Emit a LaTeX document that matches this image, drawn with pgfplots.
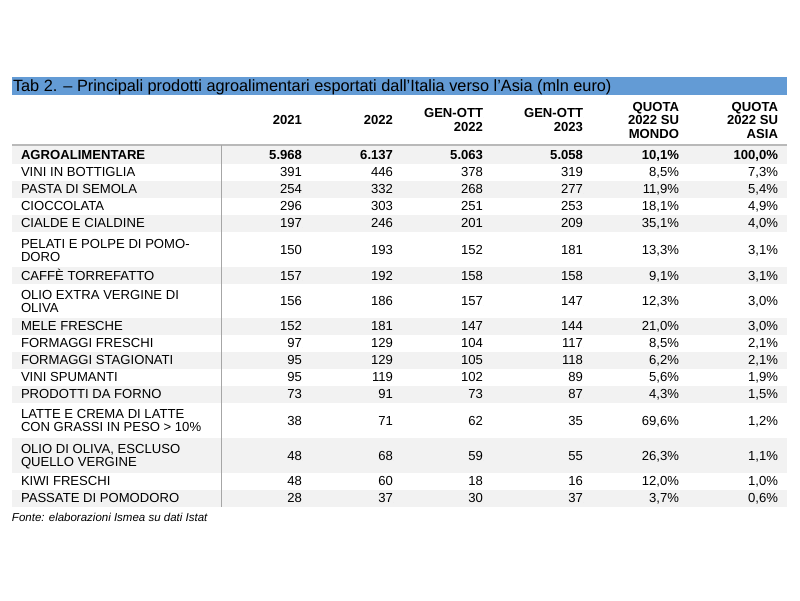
\documentclass[border=0pt]{standalone}
\usepackage{fontspec}
\setmainfont{Liberation Sans}
\usepackage{pgfplots}
\usepackage{pgfplotstable}
\pgfplotsset{compat=1.18}
\definecolor{titleblue}{RGB}{99,155,213}
\definecolor{stripe}{RGB}{242,242,242}
\newcommand{\bodyfont}{\fontsize{13.1}{15}\selectfont}
\newcommand{\titlefont}{\fontsize{16.3}{18}\selectfont}
\newcommand{\notefont}{\fontsize{11.5}{13}\selectfont\itshape}

\pgfplotstableread[col sep=semicolon]{
y;t
176.6;VINI IN BOTTIGLIA
193.6;PASTA DI SEMOLA
210.6;CIOCCOLATA
227.6;CIALDE E CIALDINE
248.1;PELATI E POLPE DI POMO-
261.4;DORO
280.1;CAFFÈ TORREFATTO
299.1;OLIO EXTRA VERGINE DI
312.1;OLIVA
330.6;MELE FRESCHE
347.6;FORMAGGI FRESCHI
364.6;FORMAGGI STAGIONATI
381.6;VINI SPUMANTI
398.6;PRODOTTI DA FORNO
418.6;LATTE E CREMA DI LATTE
431.6;CON GRASSI IN PESO > 10\%
453.6;OLIO DI OLIVA, ESCLUSO
466.6;QUELLO VERGINE
485.6;KIWI FRESCHI
502.6;PASSATE DI POMODORO
}\labels

\pgfplotstableread[col sep=semicolon]{
y;a;b;c;d;e;f
176.6;391;446;378;319;8,5\%;7,3\%
193.6;254;332;268;277;11,9\%;5,4\%
210.6;296;303;251;253;18,1\%;4,9\%
227.6;197;246;201;209;35,1\%;4,0\%
254.6;150;193;152;181;13,3\%;3,1\%
280.1;157;192;158;158;9,1\%;3,1\%
305.1;156;186;157;147;12,3\%;3,0\%
330.6;152;181;147;144;21,0\%;3,0\%
347.6;97;129;104;117;8,5\%;2,1\%
364.6;95;129;105;118;6,2\%;2,1\%
381.6;95;119;102;89;5,6\%;1,9\%
398.6;73;91;73;87;4,3\%;1,5\%
425.1;38;71;62;35;69,6\%;1,2\%
460.1;48;68;59;55;26,3\%;1,1\%
485.6;48;60;18;16;12,0\%;1,0\%
502.6;28;37;30;37;3,7\%;0,6\%
}\datatab

\pgfplotstableread[col sep=semicolon]{
x;y;t
302;124.5;2021
393;124.5;2022
483;117.5;GEN-OTT
483;131;2022
583;117.5;GEN-OTT
583;131;2023
679;111;QUOTA
679;124.5;2022 SU
679;138;MONDO
778;111;QUOTA
778;124.5;2022 SU
778;138;ASIA
302;159.6;5.968
393;159.6;6.137
483;159.6;5.063
583;159.6;5.058
679;159.6;10,1\%
778;159.6;100,0\%
}\boldtab

\pgfplotstableread[col sep=semicolon]{
x;y;t
21;159.6;AGROALIMENTARE
}\boldlab

\pgfplotstableread[col sep=semicolon]{
x;y;t
13;91.5;Tab 2. – Principali prodotti agroalimentari esportati dall’Italia verso l’Asia (mln euro)
}\titletab

\pgfplotstableread[col sep=semicolon]{
x;y;t
12;521;Fonte: elaborazioni Ismea su dati Istat
}\notetab

\pgfplotsset{
  txt/.style 2 args={only marks, mark=*, mark size=0pt,
    mark options={draw=none,fill=none},
    point meta=explicit symbolic, nodes near coords,
    nodes near coords style={inner sep=0pt, outer sep=0pt, text=black, font=#1, anchor=#2}},
  stripe/.style={draw=none, fill=stripe, forget plot}
}

\begin{document}
\begin{tikzpicture}
\begin{axis}[width=800pt, height=600pt, scale only axis,
  xmin=0, xmax=800, ymin=0, ymax=600, y dir=reverse,
  hide axis, clip=false]
% background
\addplot[draw=none, fill=white] coordinates {(0,0) (800,0) (800,600) (0,600)} -- cycle;
% title bar
\addplot[draw=none, fill=titleblue] coordinates {(12,77) (787,77) (787,94.5) (12,94.5)} -- cycle;
% stripes
\addplot[stripe] coordinates {(12,146) (787,146) (787,163.5) (12,163.5)} -- cycle;
\addplot[stripe] coordinates {(12,180.5) (787,180.5) (787,197.5) (12,197.5)} -- cycle;
\addplot[stripe] coordinates {(12,214.5) (787,214.5) (787,231.5) (12,231.5)} -- cycle;
\addplot[stripe] coordinates {(12,267) (787,267) (787,284) (12,284)} -- cycle;
\addplot[stripe] coordinates {(12,317.5) (787,317.5) (787,334.5) (12,334.5)} -- cycle;
\addplot[stripe] coordinates {(12,351.5) (787,351.5) (787,368.5) (12,368.5)} -- cycle;
\addplot[stripe] coordinates {(12,385.5) (787,385.5) (787,402.5) (12,402.5)} -- cycle;
\addplot[stripe] coordinates {(12,438) (787,438) (787,473) (12,473)} -- cycle;
\addplot[stripe] coordinates {(12,489.5) (787,489.5) (787,506.5) (12,506.5)} -- cycle;
% rules
\addplot[gray!55, line width=1.5pt] coordinates {(12,145) (787,145)};
\addplot[gray!70, line width=1pt] coordinates {(221.5,145) (221.5,506.5)};
% title and note
\addplot[txt={\titlefont}{base west}] table[x=x, y=y, meta=t] {\titletab};
\addplot[txt={\notefont}{base west}] table[x=x, y=y, meta=t] {\notetab};
% header and bold row
\addplot[txt={\bodyfont\bfseries}{base east}] table[x=x, y=y, meta=t] {\boldtab};
\addplot[txt={\bodyfont\bfseries}{base west}] table[x=x, y=y, meta=t] {\boldlab};
% labels
\addplot[txt={\bodyfont}{base west}] table[x expr=21, y=y, meta=t] {\labels};
% data columns
\addplot[txt={\bodyfont}{base east}] table[x expr=302, y=y, meta=a] {\datatab};
\addplot[txt={\bodyfont}{base east}] table[x expr=393, y=y, meta=b] {\datatab};
\addplot[txt={\bodyfont}{base east}] table[x expr=483, y=y, meta=c] {\datatab};
\addplot[txt={\bodyfont}{base east}] table[x expr=583, y=y, meta=d] {\datatab};
\addplot[txt={\bodyfont}{base east}] table[x expr=679, y=y, meta=e] {\datatab};
\addplot[txt={\bodyfont}{base east}] table[x expr=778, y=y, meta=f] {\datatab};
\end{axis}
\end{tikzpicture}
\end{document}
